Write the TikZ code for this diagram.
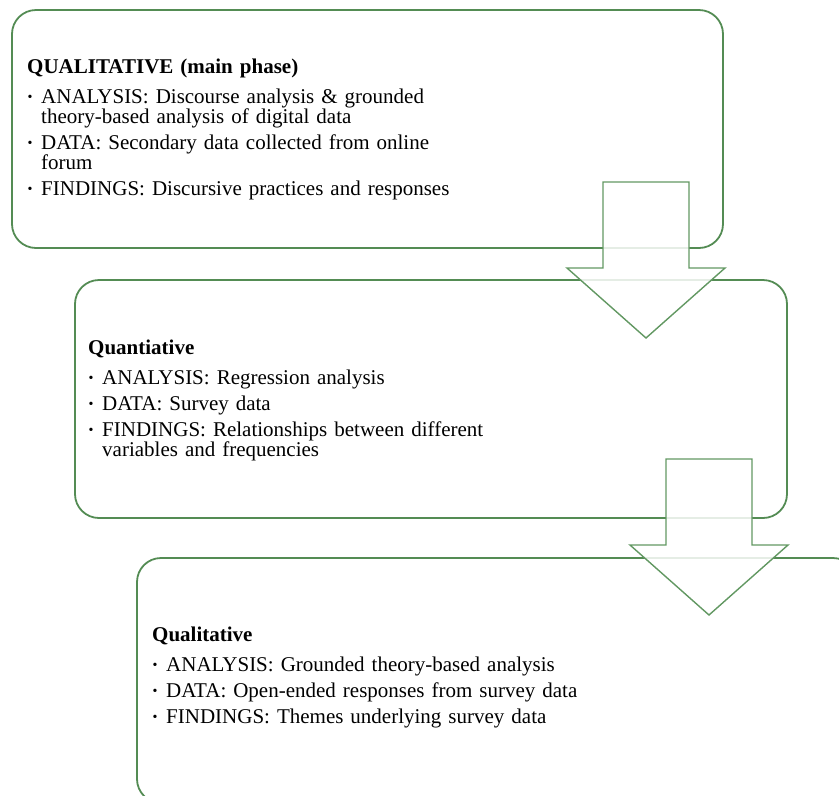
\documentclass[tikz,border=0pt]{standalone}
\usepackage{fontspec}
\setmainfont{Liberation Serif}
\definecolor{phasegreen}{RGB}{84,140,84}
\definecolor{arrowgreen}{RGB}{98,152,98}

\tikzstyle{phasebox}=[draw=phasegreen, line width=1.8pt, rounded corners=24pt, inner sep=0pt]
\tikzstyle{phasetext}=[anchor=north west, inner sep=0pt, text width=450pt, align=left, font=\fontsize{21}{20}\selectfont]
\tikzstyle{blockarrow}=[draw=arrowgreen, line width=1.4pt, fill=white, fill opacity=0.85, line join=miter]

\newcommand{\phasetitle}[1]{\noindent\textbf{#1}\par\vspace{10pt}}
\newcommand{\phaseitem}[1]{\noindent\hangindent=14pt\hangafter=1\makebox[14pt][l]{\hspace{0.5pt}\raisebox{2pt}{\fontsize{14}{14}\selectfont\textbullet}}#1\par\vspace{6pt}}

\begin{document}
\begin{tikzpicture}[x=1pt,y=-1pt]
    \useasboundingbox (0,0) rectangle (839,796);
    \clip (0,0) rectangle (839,796);

    % phase boxes
    \foreach \nodename/\x/\y/\w/\h in {
      qualmain/367.5/129/711/238,
      quant/431/399/712/238,
      qualfollow/497/680.5/720/245}
    {
      \node[phasebox, minimum width=\w pt, minimum height=\h pt] (\nodename) at (\x,\y) {};
    }

    % block arrows
    \foreach \ax/\ay in {646/182, 709/459}
    {
      \draw[blockarrow] (\ax-43,\ay) -- ++(86,0) -- ++(0,86) -- ++(36,0)
        -- ++(-79,70) -- ++(-79,-70) -- ++(36,0) -- cycle;
    }

    % texts
    \node[phasetext] (qualmaintext) at (27,59) {
      \phasetitle{QUALITATIVE (main phase)}
      \phaseitem{ANALYSIS: Discourse analysis \& grounded\newline theory-based analysis of digital data}
      \phaseitem{DATA: Secondary data collected from online\newline forum}
      \phaseitem{FINDINGS: Discursive practices and responses}
    };
    \node[phasetext] (quanttext) at (88,340) {
      \phasetitle{Quantiative}
      \phaseitem{ANALYSIS: Regression analysis}
      \phaseitem{DATA: Survey data}
      \phaseitem{FINDINGS: Relationships between different\newline variables and frequencies}
    };
    \node[phasetext] (qualfollowtext) at (152,627) {
      \phasetitle{Qualitative}
      \phaseitem{ANALYSIS: Grounded theory-based analysis}
      \phaseitem{DATA: Open-ended responses from survey data}
      \phaseitem{FINDINGS: Themes underlying survey data}
    };

\end{tikzpicture}
\end{document}
